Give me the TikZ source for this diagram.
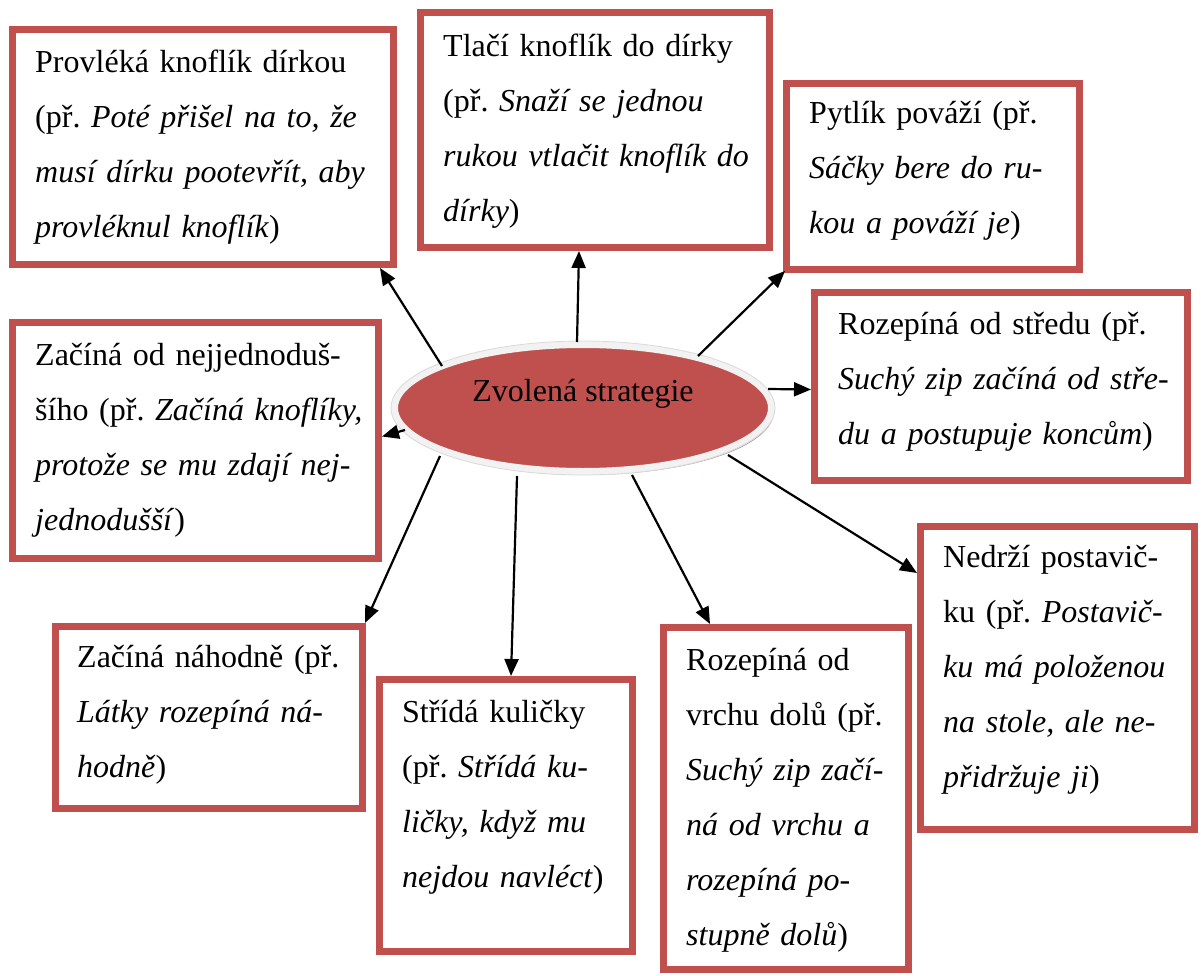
\documentclass[tikz,border=0pt]{standalone}
\usepackage{fontspec}
\setmainfont{Liberation Serif}
\usetikzlibrary{arrows.meta,shapes.geometric,shadows}
\definecolor{boxred}{HTML}{C0504D}
\definecolor{ringgray}{HTML}{F2F2F2}
\definecolor{ringedge}{HTML}{DADADA}
\definecolor{shadowrose}{RGB}{180,140,140}
\frenchspacing
\begin{document}
\begin{tikzpicture}[x=1pt,y=-1pt,
  box/.style={draw=boxred,line width=7pt,fill=white,rectangle,inner sep=0pt},
  txt/.style={anchor=base west,inner sep=0pt,text width=420pt,align=left,
    font=\fontsize{32}{55}\selectfont},
  arr/.style={line width=2.2pt,-{Triangle[length=17pt,width=14pt]}}]
\useasboundingbox (0,0) rectangle (1201,976);

% central ellipse with its light ring and soft shadow
\node[ellipse,draw=ringgray,fill=boxred,line width=7pt,outer sep=0pt,
  minimum width=377pt,minimum height=127pt,
  drop shadow={shadow xshift=2.5pt,shadow yshift=-3.5pt,fill=shadowrose,opacity=1}]
  (ell) at (583,408) {};
\draw[ringedge,line width=0.8pt] (ell.center) ellipse [x radius=192, y radius=67];
\node[anchor=base,inner sep=0pt,font=\fontsize{32}{55}\selectfont]
  (elltext) at ([yshift=7pt]ell.center) {Zvolená strategie};

% strategy boxes
\node[box,minimum width=381pt,minimum height=235pt] (b1) at (203,147) {};
\node[box,minimum width=349pt,minimum height=235pt] (b2) at (595,130) {};
\node[box,minimum width=293pt,minimum height=186pt] (b3) at (933,176.5) {};
\node[box,minimum width=373pt,minimum height=188pt] (b4) at (1001,386.5) {};
\node[box,minimum width=366pt,minimum height=236pt] (b5) at (195.5,440.5) {};
\node[box,minimum width=274pt,minimum height=303pt] (b6) at (1057.5,678) {};
\node[box,minimum width=307pt,minimum height=182pt] (b7) at (209,717.5) {};
\node[box,minimum width=253pt,minimum height=272pt] (b8) at (506,815.5) {};
\node[box,minimum width=245pt,minimum height=342pt] (b9) at (786,798.5) {};

% box texts
\node[txt] (t1) at ([xshift=26pt,yshift=-47pt]b1.north west)
  {Provléká knoflík dírkou\\(př. \textit{Poté přišel na to, že}\\\textit{musí dírku pootevřít, aby}\\\textit{provléknul knoflík})};
\node[txt] (t2) at ([xshift=26pt,yshift=-48pt]b2.north west)
  {Tlačí knoflík do dírky\\(př. \textit{Snaží se jednou}\\\textit{rukou vtlačit knoflík do}\\\textit{dírky})};
\node[txt] (t3) at ([xshift=26pt,yshift=-44pt]b3.north west)
  {Pytlík pováží (př.\\\textit{Sáčky bere do ru-}\\\textit{kou a pováží je})};
\node[txt] (t4) at ([xshift=27pt,yshift=-45pt]b4.north west)
  {Rozepíná od středu (př.\\\textit{Suchý zip začíná od stře-}\\\textit{du a postupuje koncům})};
\node[txt] (t5) at ([xshift=26pt,yshift=-46pt]b5.north west)
  {Začíná od nejjednoduš-\\šího (př. \textit{Začíná knoflíky,}\\\textit{protože se mu zdají nej-}\\\textit{jednodušší})};
\node[txt] (t6) at ([xshift=26pt,yshift=-44pt]b6.north west)
  {Nedrží postavič-\\ku (př. \textit{Postavič-}\\\textit{ku má položenou}\\\textit{na stole, ale ne-}\\\textit{přidržuje ji})};
\node[txt] (t7) at ([xshift=25pt,yshift=-44pt]b7.north west)
  {Začíná náhodně (př.\\\textit{Látky rozepíná ná-}\\\textit{hodně})};
\node[txt] (t8) at ([xshift=26pt,yshift=-46pt]b8.north west)
  {Střídá kuličky\\(př. \textit{Střídá ku-}\\\textit{ličky, když mu}\\\textit{nejdou navléct})};
\node[txt] (t9) at ([xshift=26pt,yshift=-46pt]b9.north west)
  {Rozepíná od\\vrchu dolů (př.\\\textit{Suchý zip začí-}\\\textit{ná od vrchu a}\\\textit{rozepíná po-}\\\textit{stupně dolů})};

% starting points of the connectors on the ellipse rim
\coordinate (s1) at (442,366);
\coordinate (s2) at (577,342);
\coordinate (s3) at (698,356);
\coordinate (s4) at (768,389);
\coordinate (s5) at (405,430);
\coordinate (s6) at (728,455);
\coordinate (s7) at (440,456);
\coordinate (s8) at (517,476);
\coordinate (s9) at (632,475);

% connectors
\draw[arr] (s1) -- ([xshift=-17pt]b1.south east);
\draw[arr] (s2) -- ([xshift=-16pt]b2.south);
\draw[arr] (s3) -- ([xshift=2pt,yshift=2pt]b3.south west);
\draw[arr] (s4) -- ([yshift=-3pt]b4.west);
\draw[arr] (s5) -- ([yshift=4pt]b5.east);
\draw[arr] (s6) -- ([yshift=-50pt]b6.north west);
\draw[arr] (s7) -- ([xshift=-1pt]b7.north east);
\draw[arr] (s8) -- ([xshift=5pt]b8.north);
\draw[arr] (s9) -- ([xshift=50pt]b9.north west);
\end{tikzpicture}
\end{document}
